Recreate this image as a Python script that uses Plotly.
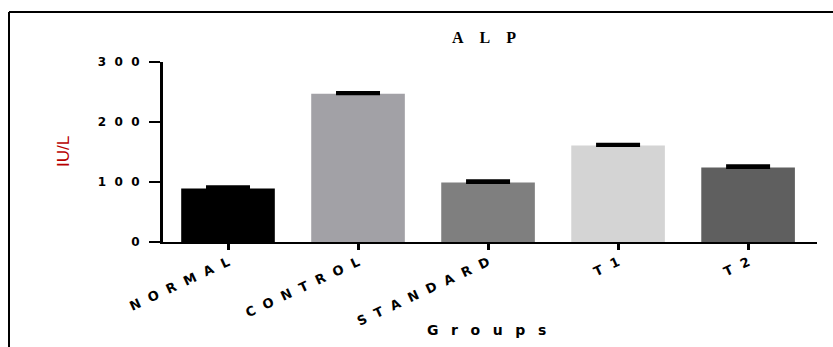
import plotly.graph_objects as go

# ALP levels per treatment group (mean with SEM shown above each bar)
groups = ["NORMAL", "CONTROL", "STANDARD", "T1", "T2"]
alp_mean = [89, 247, 99, 161, 124]
alp_sem = [3, 2, 3, 2, 3]
bar_colors = ["#000000", "#a2a1a6", "#7f7f7f", "#d4d4d4", "#5f5f5f"]
y_ticks = [0, 100, 200, 300]

EN = "\u2002"
THIN = "\u2009"


def spaced(text, gap):
    return gap.join(list(text))


W, H = 833, 347
ML, MR, MT, MB = 163, 16, 62, 105
PW = W - ML - MR
PH = H - MT - MB


def px_x(px):
    return (px - ML) / PW


def px_y(py):
    return (H - MB - py) / PH


fig = go.Figure()
fig.add_trace(go.Bar(
    x=list(range(len(groups))),
    y=alp_mean,
    width=0.72,
    marker=dict(color=bar_colors, line=dict(width=0)),
    error_y=dict(type="data", symmetric=False, array=alp_sem,
                 arrayminus=[0] * len(alp_sem),
                 color="#000000", thickness=3, width=22),
    showlegend=False,
))

fig.update_xaxes(
    range=[-0.5, 4.53],
    tickmode="array",
    tickvals=list(range(len(groups))),
    ticktext=[spaced(g, EN + THIN) for g in groups],
    tickangle=-25,
    tickfont=dict(family="DejaVu Sans", size=13, color="#000000", weight="bold"),
    showline=True, linecolor="#000000", linewidth=2,
    ticks="outside", ticklen=6, tickwidth=3, tickcolor="#000000",
    showgrid=False, zeroline=False,
)
fig.update_yaxes(
    range=[0, 300],
    tickmode="array",
    tickvals=y_ticks,
    ticktext=[spaced(str(v), EN + THIN) for v in y_ticks],
    tickfont=dict(family="DejaVu Sans", size=12, color="#000000", weight="bold"),
    ticklabelstandoff=7,
    showline=True, linecolor="#000000", linewidth=3,
    ticks="outside", ticklen=11, tickwidth=2, tickcolor="#000000",
    showgrid=False, zeroline=False,
)

annotations = [
    dict(text=spaced("ALP", EN + EN), x=px_x(484), y=px_y(37),
         xref="paper", yref="paper", showarrow=False,
         xanchor="center", yanchor="middle",
         font=dict(family="Liberation Serif", size=16, color="#000000", weight="bold")),
    dict(text=spaced("Groups", EN + THIN + THIN), x=px_x(486), y=px_y(330),
         xref="paper", yref="paper", showarrow=False,
         xanchor="center", yanchor="middle",
         font=dict(family="DejaVu Sans", size=14, color="#000000", weight="bold")),
    dict(text="IU/L", x=px_x(63), y=px_y(152), textangle=-90,
         xref="paper", yref="paper", showarrow=False,
         xanchor="center", yanchor="middle",
         font=dict(family="Liberation Sans Narrow, Liberation Sans", size=17, color="#b80000")),
]

# outer frame (top and left edges)
shapes = [
    dict(type="line", xref="paper", yref="paper",
         x0=px_x(9), x1=px_x(840), y0=px_y(12), y1=px_y(12),
         line=dict(color="#000000", width=2)),
    dict(type="line", xref="paper", yref="paper",
         x0=px_x(9), x1=px_x(9), y0=px_y(12), y1=px_y(350),
         line=dict(color="#000000", width=2)),
]

fig.update_layout(
    width=W, height=H,
    margin=dict(l=ML, r=MR, t=MT, b=MB),
    plot_bgcolor="#ffffff", paper_bgcolor="#ffffff",
    annotations=annotations,
    shapes=shapes,
)

fig.write_html("out.html")
